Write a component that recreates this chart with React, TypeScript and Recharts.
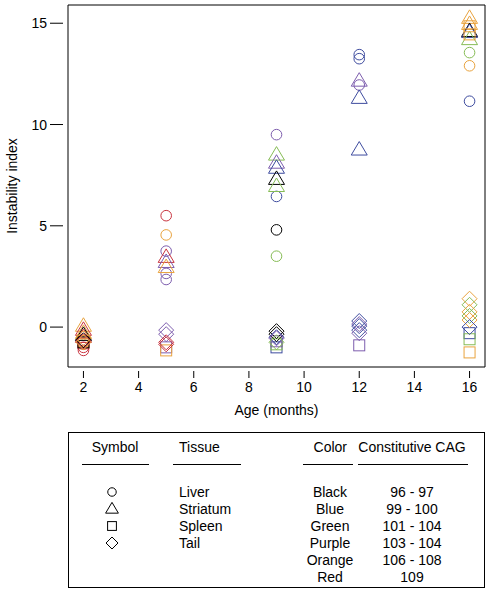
import { ScatterChart, Scatter, XAxis, YAxis, ReferenceArea, Label } from 'recharts';

const ageTicks = [2, 4, 6, 8, 10, 12, 14, 16];
const indexTicks = [0, 5, 10, 15];
const ageDomain = [1.44, 16.56];
const indexDomain = [-1.97, 15.9];

// [age, instability index, colour group]
const liver: [number, number, string][] = [
  [2, -1.15, 'Red'], [2, -1.0, 'Red'], [2, -0.85, 'Orange'],
  [5, 5.5, 'Red'], [5, 4.55, 'Orange'], [5, 3.75, 'Purple'], [5, 2.65, 'Purple'], [5, 2.35, 'Purple'],
  [9, 9.5, 'Purple'], [9, 6.45, 'Blue'], [9, 4.8, 'Black'], [9, 3.5, 'Green'],
  [12, 13.45, 'Blue'], [12, 13.25, 'Blue'], [12, 11.95, 'Purple'],
  [16, 13.55, 'Green'], [16, 12.9, 'Orange'], [16, 11.15, 'Blue'],
];

const striatum: [number, number, string][] = [
  [2, 0.05, 'Orange'], [2, -0.15, 'Red'], [2, -0.3, 'Orange'], [2, -0.4, 'Black'], [2, -0.5, 'Red'],
  [5, 3.45, 'Red'], [5, 3.2, 'Purple'], [5, 2.95, 'Orange'],
  [9, 8.5, 'Green'], [9, 8.1, 'Purple'], [9, 7.85, 'Blue'], [9, 7.3, 'Black'], [9, 6.95, 'Green'],
  [12, 12.15, 'Purple'], [12, 11.3, 'Blue'], [12, 8.75, 'Blue'],
  [16, 15.25, 'Orange'], [16, 14.95, 'Orange'], [16, 14.6, 'Black'], [16, 14.55, 'Blue'], [16, 14.2, 'Green'],
];

const spleen: [number, number, string][] = [
  [2, -0.7, 'Orange'], [2, -0.8, 'Red'], [2, -0.75, 'Black'],
  [5, -1.0, 'Purple'], [5, -1.15, 'Orange'],
  [9, -1.0, 'Blue'], [9, -0.85, 'Green'], [9, -0.7, 'Purple'],
  [12, -0.9, 'Purple'],
  [16, 14.85, 'Orange'], [16, 14.45, 'Orange'], [16, -0.3, 'Blue'], [16, -0.6, 'Green'], [16, -1.25, 'Orange'],
];

const tail: [number, number, string][] = [
  [2, -0.55, 'Orange'], [2, -0.65, 'Black'], [2, -0.7, 'Red'], [2, -0.75, 'Orange'],
  [5, -0.15, 'Purple'], [5, -0.35, 'Purple'], [5, -0.75, 'Red'], [5, -0.85, 'Red'],
  [9, -0.2, 'Black'], [9, -0.35, 'Black'], [9, -0.5, 'Blue'], [9, -0.55, 'Purple'], [9, -0.75, 'Green'],
  [12, 0.3, 'Blue'], [12, 0.15, 'Purple'], [12, 0.05, 'Blue'], [12, -0.15, 'Blue'], [12, -0.3, 'Purple'],
  [16, 1.4, 'Orange'], [16, 1.1, 'Green'], [16, 0.75, 'Orange'], [16, 0.55, 'Green'], [16, 0.35, 'Orange'], [16, 0.0, 'Blue'],
];

const tissues = ['Liver', 'Striatum', 'Spleen', 'Tail'];
const colorNames = ['Black', 'Blue', 'Green', 'Purple', 'Orange', 'Red'];
const cagRanges = ['96 - 97', '99 - 100', '101 - 104', '103 - 104', '106 - 108', '109'];

const palette: Record<string, string> = {
  Black: '#000000',
  Blue: '#3E4C9F',
  Green: '#86BC55',
  Purple: '#7D5DAE',
  Orange: '#E9A33E',
  Red: '#C9343F',
};

const FONT = '"Liberation Sans", Arial, Helvetica, sans-serif';

const toRows = (arr: [number, number, string][]) => arr.map(([age, index, group]) => ({ age, index, group }));

function Marker({ kind, cx, cy, color, s = 1 }: { kind: string; cx: number; cy: number; color: string; s?: number }) {
  const common = { fill: 'none', stroke: color, strokeWidth: 1 };
  if (kind === 'Liver') return <circle cx={cx} cy={cy} r={5.3 * s} {...common} />;
  if (kind === 'Striatum') {
    const pts = `${cx},${cy - 8.3 * s} ${cx - 8 * s},${cy + 5.2 * s} ${cx + 8 * s},${cy + 5.2 * s}`;
    return <polygon points={pts} {...common} />;
  }
  if (kind === 'Spleen') {
    const h = 5.5 * s;
    return <rect x={cx - h} y={cy - h} width={2 * h} height={2 * h} {...common} />;
  }
  const d = 7.5 * s;
  return <polygon points={`${cx},${cy - d} ${cx + d},${cy} ${cx},${cy + d} ${cx - d},${cy}`} {...common} />;
}

const makeShape = (kind: string) => (props: any) => {
  const { cx, cy, payload } = props;
  return <Marker kind={kind} cx={cx} cy={cy} color={palette[payload.group]} />;
};

const XTick = ({ x, y, payload }: any) => (
  <g>
    <line x1={x} x2={x} y1={y + 4} y2={y + 11} stroke='#000' />
    <text x={x} y={y + 25} textAnchor='middle' fontSize={14} fontFamily={FONT} fill='#000'>
      {payload.value}
    </text>
  </g>
);

const YTick = ({ x, y, payload }: any) => (
  <g>
    <line x1={x - 18} x2={x - 5} y1={y} y2={y} stroke='#000' />
    <text x={x - 21} y={y + 5} textAnchor='end' fontSize={14} fontFamily={FONT} fill='#000'>
      {payload.value}
    </text>
  </g>
);

const series = [
  { kind: 'Liver', data: toRows(liver) },
  { kind: 'Striatum', data: toRows(striatum) },
  { kind: 'Spleen', data: toRows(spleen) },
  { kind: 'Tail', data: toRows(tail) },
];

function LegendBox() {
  const txt = { fontSize: 14, fontFamily: FONT, fill: '#000' };
  const rowY = (i: number) => 65 + i * 17;
  return (
    <svg width={489} height={161} style={{ position: 'absolute', left: 0, top: 432 }}>
      <rect x={68.5} y={0.5} width={416} height={155} fill='none' stroke='#000' />
      <text x={115} y={20} textAnchor='middle' {...txt}>Symbol</text>
      <text x={179} y={20} {...txt}>Tissue</text>
      <text x={347} y={20} textAnchor='end' {...txt}>Color</text>
      <text x={412} y={20} textAnchor='middle' {...txt}>Constitutive CAG</text>
      <line x1={82} x2={149} y1={32.5} y2={32.5} stroke='#000' />
      <line x1={173} x2={241} y1={32.5} y2={32.5} stroke='#000' />
      <line x1={303} x2={353} y1={32.5} y2={32.5} stroke='#000' />
      <line x1={358} x2={468} y1={32.5} y2={32.5} stroke='#000' />
      {tissues.map((t, i) => (
        <g key={t}>
          <Marker kind={t} cx={112} cy={rowY(i) - 5} color='#000' s={0.8} />
          <text x={179} y={rowY(i)} {...txt}>{t}</text>
        </g>
      ))}
      {colorNames.map((c, i) => (
        <g key={c}>
          <text x={330} y={rowY(i)} textAnchor='middle' {...txt}>{c}</text>
          <text x={412} y={rowY(i)} textAnchor='middle' {...txt}>{cagRanges[i]}</text>
        </g>
      ))}
    </svg>
  );
}

export default function App() {
  return (
    <div style={{ position: 'absolute', left: 0, top: 0, width: 489, height: 593, background: '#fff' }}>
      <ScatterChart width={489} height={430} margin={{ top: 5, right: 4, bottom: 0, left: 0 }}>
        <XAxis
          type='number'
          dataKey='age'
          domain={ageDomain}
          ticks={ageTicks}
          allowDataOverflow
          height={63}
          tickSize={0}
          tickMargin={0}
          axisLine={false}
          tickLine={false}
          tick={<XTick />}>
          <Label
            content={({ viewBox }: any) => (
              <text x={viewBox.x + viewBox.width / 2} y={viewBox.y + 48} textAnchor='middle' fontSize={14} fontFamily={FONT} fill='#000'>
                Age (months)
              </text>
            )}
          />
        </XAxis>
        <YAxis
          type='number'
          dataKey='index'
          domain={indexDomain}
          ticks={indexTicks}
          allowDataOverflow
          width={68}
          tickSize={0}
          tickMargin={0}
          axisLine={false}
          tickLine={false}
          tick={<YTick />}>
          <Label
            content={({ viewBox }: any) => (
              <text
                transform={`translate(${viewBox.x + 17}, ${viewBox.y + viewBox.height / 2}) rotate(-90)`}
                textAnchor='middle'
                fontSize={14}
                fontFamily={FONT}
                fill='#000'>
                Instability index
              </text>
            )}
          />
        </YAxis>
        <ReferenceArea x1={ageDomain[0]} x2={ageDomain[1]} y1={indexDomain[0]} y2={indexDomain[1]} fill='none' stroke='#000' strokeWidth={1} />
        {series.map((s) => (
          <Scatter key={s.kind} name={s.kind} data={s.data} shape={makeShape(s.kind)} isAnimationActive={false} />
        ))}
      </ScatterChart>
      <LegendBox />
    </div>
  );
}
